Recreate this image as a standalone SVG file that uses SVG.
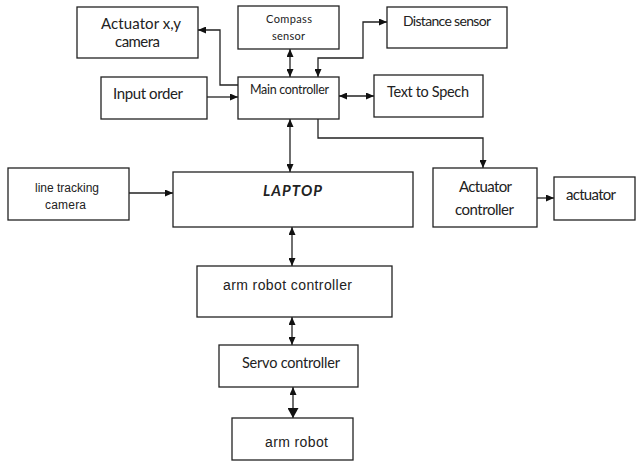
<svg xmlns="http://www.w3.org/2000/svg" width="637" height="461" viewBox="0 0 637 461">
  <style>
    .box { fill: #ffffff; stroke: #222222; stroke-width: 1.3; }
    .wire { fill: none; stroke: #222222; stroke-width: 1.3; }
    .t { font-family: Lato, "Open Sans", sans-serif; fill: #222222; }
    .a { font-family: "Liberation Sans", Arial, sans-serif; fill: #222222; }
  </style>
  <defs>
    <marker id="arr" viewBox="0 0 8 7" refX="8" refY="3.5" markerWidth="8" markerHeight="7" markerUnits="userSpaceOnUse" orient="auto-start-reverse">
      <path d="M0,0 L8,3.5 L0,7 z" fill="#111111"/>
    </marker>
    <marker id="arrBig" viewBox="0 0 10 11" refX="10" refY="5.5" markerWidth="10" markerHeight="11" markerUnits="userSpaceOnUse" orient="auto-start-reverse">
      <path d="M0,0 L10,5.5 L0,11 z" fill="#111111"/>
    </marker>
  </defs>
  <rect width="637" height="461" fill="#ffffff"/>

  <g id="connectors">
    <path class="wire" d="M238,85 H220 V30 H198" marker-end="url(#arr)"/>
    <path class="wire" d="M207,97 H238" marker-end="url(#arr)"/>
    <path class="wire" d="M290,49 V77" marker-start="url(#arr)" marker-end="url(#arr)"/>
    <path class="wire" d="M318,77 V58 H363 V22 H387" marker-start="url(#arr)" marker-end="url(#arr)"/>
    <path class="wire" d="M339,96 H374" marker-start="url(#arr)" marker-end="url(#arr)"/>
    <path class="wire" d="M290,119 V172" marker-start="url(#arr)" marker-end="url(#arr)"/>
    <path class="wire" d="M318,119 V138 H483 V168" marker-end="url(#arr)"/>
    <path class="wire" d="M129,193 H173" marker-end="url(#arr)"/>
    <path class="wire" d="M537,198 H554" marker-end="url(#arr)"/>
    <path class="wire" d="M292,227 V266" marker-start="url(#arr)" marker-end="url(#arr)"/>
    <path class="wire" d="M292,317 V345" marker-start="url(#arr)" marker-end="url(#arr)"/>
    <path class="wire" d="M293,387 V418" marker-start="url(#arr)" marker-end="url(#arrBig)"/>
  </g>

  <g id="actuator-xy-camera">
    <rect class="box" x="77" y="7" width="121" height="51"/>
    <text class="t" x="101" y="29" font-size="15" textLength="80">Actuator x,y</text>
    <text class="t" x="115" y="47" font-size="15" textLength="45">camera</text>
  </g>
  <g id="compass-sensor">
    <rect class="box" x="238" y="6" width="101" height="43"/>
    <text class="t" x="266" y="23" font-size="11" textLength="46">Compass</text>
    <text class="t" x="272" y="40" font-size="11" textLength="33">sensor</text>
  </g>
  <g id="distance-sensor">
    <rect class="box" x="387" y="7" width="120" height="41"/>
    <text class="t" x="403" y="26" font-size="14" textLength="88">Distance sensor</text>
  </g>
  <g id="input-order">
    <rect class="box" x="101" y="77" width="106" height="42"/>
    <text class="t" x="113" y="99" font-size="15" textLength="70">Input order</text>
  </g>
  <g id="main-controller">
    <rect class="box" x="238" y="77" width="101" height="42"/>
    <text class="t" x="250" y="94" font-size="12.5" textLength="79">Main controller</text>
  </g>
  <g id="text-to-spech">
    <rect class="box" x="374" y="75" width="109" height="42"/>
    <text class="t" x="387" y="97" font-size="14.5" textLength="82">Text to Spech</text>
  </g>
  <g id="line-tracking-camera">
    <rect class="box" x="8" y="168" width="121" height="52"/>
    <text class="a" x="35" y="192" font-size="12" textLength="64">line tracking</text>
    <text class="a" x="45" y="209" font-size="12" textLength="41">camera</text>
  </g>
  <g id="laptop">
    <rect class="box" x="173" y="172" width="240" height="55"/>
    <text class="t" x="263" y="196" font-size="15" font-weight="bold" font-style="italic" textLength="59">LAPTOP</text>
  </g>
  <g id="actuator-controller">
    <rect class="box" x="433" y="168" width="104" height="59"/>
    <text class="t" x="459" y="192" font-size="15" textLength="53">Actuator</text>
    <text class="t" x="455" y="215" font-size="15" textLength="59">controller</text>
  </g>
  <g id="actuator">
    <rect class="box" x="554" y="177" width="81" height="43"/>
    <text class="t" x="566" y="200" font-size="15" textLength="50">actuator</text>
  </g>
  <g id="arm-robot-controller">
    <rect class="box" x="197" y="266" width="195" height="51"/>
    <text class="a" x="223" y="290" font-size="14" textLength="129">arm robot controller</text>
  </g>
  <g id="servo-controller">
    <rect class="box" x="219" y="345" width="139" height="42"/>
    <text class="t" x="242" y="368" font-size="14.5" textLength="98">Servo controller</text>
  </g>
  <g id="arm-robot">
    <rect class="box" x="232" y="418" width="121" height="42"/>
    <text class="a" x="265" y="447" font-size="14" textLength="63">arm robot</text>
  </g>
</svg>
